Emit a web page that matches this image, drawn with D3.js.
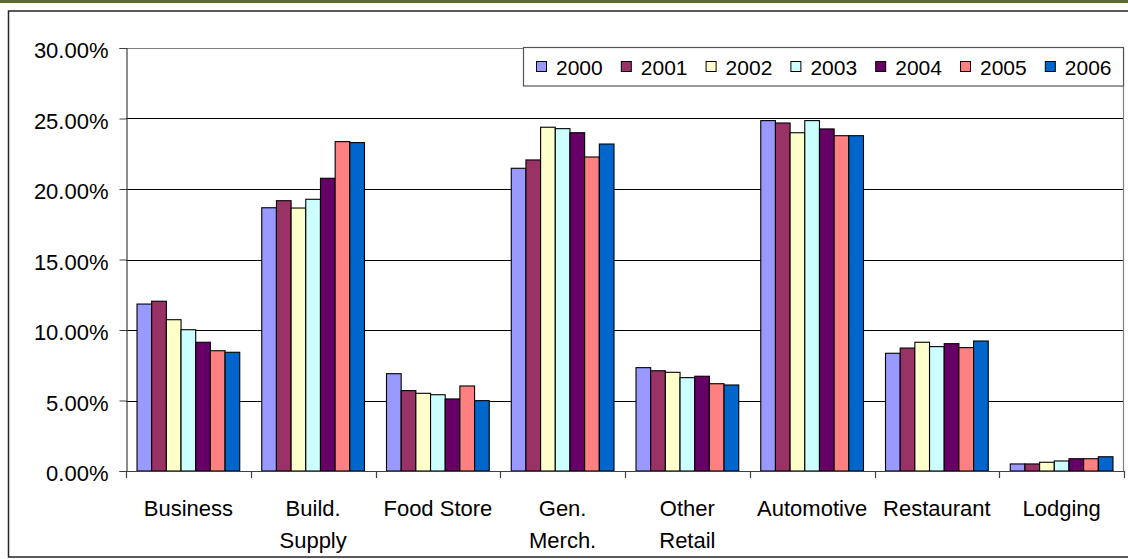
<!DOCTYPE html>
<html>
<head>
<meta charset="utf-8">
<script src="https://cdn.jsdelivr.net/npm/d3@7"></script>
<style>
  html, body { margin: 0; padding: 0; background: #ffffff; }
  svg { display: block; }
  text { font-family: "Liberation Sans", Arial, sans-serif; fill: #000; }
</style>
</head>
<body>
<svg id="chart" width="1128" height="559"></svg>
<script>
// Share of sales by business category, 2000–2006
const categories = ["Business", "Build. Supply", "Food Store", "Gen. Merch.", "Other Retail", "Automotive", "Restaurant", "Lodging"];
const years = ["2000", "2001", "2002", "2003", "2004", "2005", "2006"];

// one array per year, in category order (percent)
const v2000 = [11.84, 18.67, 6.90, 21.47, 7.33, 24.85, 8.35, 0.50];
const v2001 = [12.04, 19.17, 5.70, 22.06, 7.11, 24.68, 8.72, 0.50];
const v2002 = [10.73, 18.65, 5.51, 24.38, 7.00, 23.99, 9.13, 0.62];
const v2003 = [10.02, 19.27, 5.41, 24.28, 6.62, 24.85, 8.82, 0.71];
const v2004 = [9.13, 20.76, 5.11, 23.99, 6.72, 24.26, 9.03, 0.87];
const v2005 = [8.53, 23.36, 6.03, 22.27, 6.19, 23.78, 8.75, 0.87];
const v2006 = [8.42, 23.29, 4.99, 23.19, 6.10, 23.78, 9.22, 1.01];

const yTicks = [0, 5, 10, 15, 20, 25, 30];
const colors = ["#9999FF", "#993366", "#FFFFCC", "#CCFFFF", "#660066", "#FF8080", "#0066CC"];

const seriesValues = [v2000, v2001, v2002, v2003, v2004, v2005, v2006];

const svg = d3.select("#chart");

// top strip and outer frame
svg.append("rect").attr("x", 0).attr("y", 0).attr("width", 1128).attr("height", 3).attr("fill", "#5A6B2E");
svg.append("rect").attr("x", 8.5).attr("y", 11).attr("width", 1140).attr("height", 546)
  .attr("fill", "none").attr("stroke", "#262626").attr("stroke-width", 1.5);

const plotL = 126, plotR = 1124, plotT = 48, plotB = 471;

const x0 = d3.scaleBand().domain(categories).range([plotL, plotR]).padding(0);
const bw = x0.bandwidth();
const gap = bw * 0.75 / 8.5;
const x1 = d3.scaleBand().domain(years).range([gap, bw - gap]).padding(0);
const y = d3.scaleLinear().domain([0, 30]).range([plotB, plotT]);

// gridlines
svg.append("g").selectAll("line").data(yTicks.filter(t => t > 0 && t < 30)).join("line")
  .attr("x1", plotL).attr("x2", plotR)
  .attr("y1", d => Math.round(y(d)) + 0.5).attr("y2", d => Math.round(y(d)) + 0.5)
  .attr("stroke", "#000").attr("stroke-width", 1);

// plot area border (top and right)
svg.append("path")
  .attr("d", `M${plotL},${plotT + 0.5}H${plotR - 0.5}V${plotB}`)
  .attr("fill", "none").attr("stroke", "#808080").attr("stroke-width", 1.2);

// bars
const rows = categories.map((c, i) => ({ cat: c, vals: years.map((yr, k) => ({ year: yr, k, v: seriesValues[k][i] })) }));
svg.append("g").selectAll("g").data(rows).join("g")
  .attr("transform", d => `translate(${x0(d.cat)},0)`)
  .selectAll("rect").data(d => d.vals).join("rect")
  .attr("x", d => x1(d.year))
  .attr("y", d => y(d.v))
  .attr("width", x1.bandwidth())
  .attr("height", d => plotB - y(d.v))
  .attr("fill", d => colors[d.k])
  .attr("stroke", "#000").attr("stroke-width", 1.1);

// y axis
const yAxis = d3.axisLeft(y).tickValues(yTicks).tickSize(7).tickPadding(11)
  .tickFormat(d => d3.format(".2f")(d) + "%");
const gy = svg.append("g").attr("transform", `translate(${plotL + 0.5},0)`).call(yAxis);
gy.select(".domain").attr("stroke", "#404040").attr("stroke-width", 1.2);
gy.selectAll(".tick line").attr("stroke", "#404040");
gy.selectAll(".tick text").attr("font-size", 22).attr("dy", "0.45em")
  .attr("font-family", "'Liberation Sans', Arial, sans-serif").attr("fill", "#000");

// x axis line with band-boundary ticks
const gx = svg.append("g");
gx.append("line").attr("x1", plotL).attr("x2", plotR).attr("y1", plotB + 0.5).attr("y2", plotB + 0.5)
  .attr("stroke", "#404040").attr("stroke-width", 1.2);
const boundaries = categories.map(c => x0(c)).concat([plotR]);
gx.selectAll("line.tk").data(boundaries).join("line").attr("class", "tk")
  .attr("x1", d => Math.round(d) + 0.5).attr("x2", d => Math.round(d) + 0.5)
  .attr("y1", plotB).attr("y2", plotB + 7)
  .attr("stroke", "#404040").attr("stroke-width", 1.2);

// category labels, wrapped when wider than the slot
const labels = gx.selectAll("text").data(categories).join("text")
  .attr("x", d => x0(d) + bw / 2).attr("y", 516)
  .attr("text-anchor", "middle").attr("font-size", 22);
labels.each(function (d) {
  const t = d3.select(this);
  t.text(d);
  if (this.getComputedTextLength() > 112 && d.includes(" ")) {
    const parts = d.split(" ");
    t.text(null);
    parts.forEach((p, i) => {
      t.append("tspan").attr("x", x0(d) + bw / 2).attr("dy", i === 0 ? 0 : 32).text(p);
    });
  }
});

// legend
const lg = svg.append("g");
lg.append("rect").attr("x", 523.5).attr("y", 47.5).attr("width", 600).attr("height", 38.5)
  .attr("fill", "#fff").attr("stroke", "#555").attr("stroke-width", 1.2);
const items = lg.selectAll("g").data(years).join("g")
  .attr("transform", (d, i) => `translate(${556 + i * 84.8},0)`);
items.append("rect").attr("x", -19.5).attr("y", 61.5).attr("width", 10).attr("height", 10)
  .attr("fill", (d, i) => colors[i]).attr("stroke", "#000").attr("stroke-width", 1);
items.append("text").attr("x", 0).attr("y", 74.5).attr("font-size", 21).text(d => d);
</script>
</body>
</html>
